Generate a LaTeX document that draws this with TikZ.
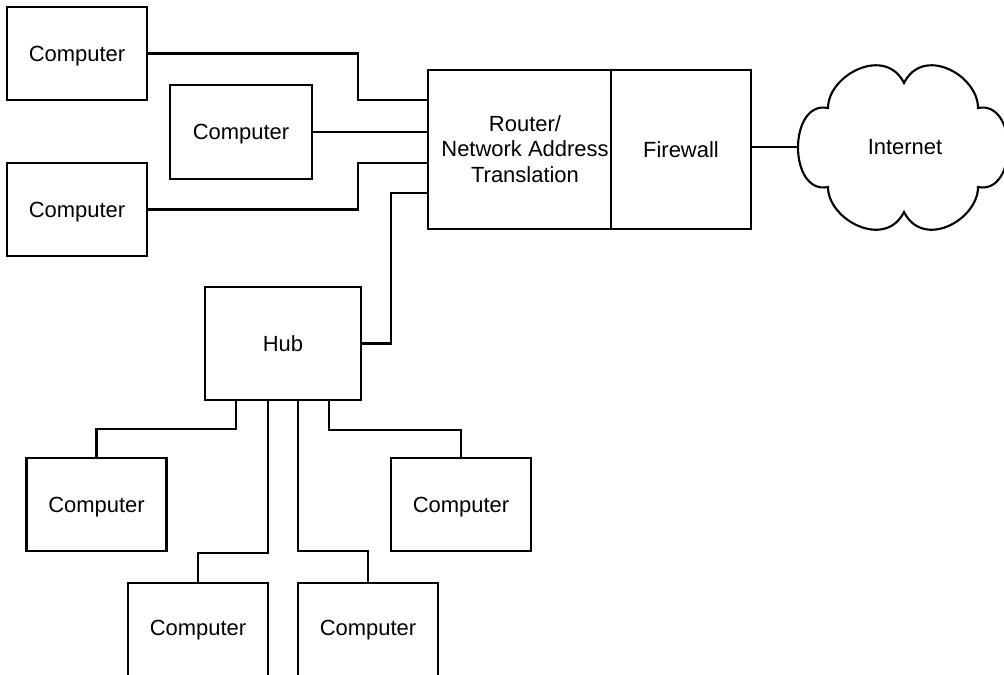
\documentclass[tikz,border=0pt]{standalone}
\usepackage{fontspec}
\setmainfont{Liberation Sans}
\usetikzlibrary{calc}
\begin{document}
\begin{tikzpicture}[x=0.02cm,y=-0.02cm,
  every node/.style={font=\fontsize{12.5}{14.5}\selectfont},
  txt/.style={text depth=0pt},
  box/.style={draw,line width=1.2pt,inner sep=0pt,outer sep=0pt,align=center,text depth=0pt},
  comp/.style={box,minimum width=2.8cm,minimum height=1.86cm},
  wire/.style={line width=1.2pt}]
\clip (0,0) rectangle (1004,674);
\fill[white] (0,0) rectangle (1004,674);
% top computers
\node[comp] (c1) at (77,53.5) {Computer};
\node[comp,minimum width=2.84cm,minimum height=1.88cm] (c2) at (241,132) {Computer};
\node[comp] (c3) at (77,209.5) {Computer};
% router and firewall
\node[box,minimum width=3.66cm,minimum height=3.18cm] (router) at (519.5,149.5) {};
\node[align=center,inner sep=0pt] (routertext) at (525,149) {Router/\\Network Address\\Translation};
\node[box,minimum width=2.8cm,minimum height=3.18cm] (fw) at (681,149.5) {Firewall};
% hub
\node[box,minimum width=3.12cm,minimum height=2.26cm] (hub) at (283,343.5) {Hub};
% bottom computers
\node[comp] (cb1) at (96.5,504.5) {Computer};
\node[comp] (cr) at (461,504.5) {Computer};
\node[comp] (cb2) at (198,629.5) {};
\node[txt] (cb2text) at (198,628) {Computer};
\node[comp] (cb3) at (368,629.5) {};
\node[txt] (cb3text) at (368,628) {Computer};
% cloud
\draw[line width=1.2pt,fill=white] (828,108) .. controls (828,75) and (885,45) .. (904,83)
  .. controls (923,45) and (978,75) .. (978,108)
  .. controls (1018,100) and (1018,195) .. (978,187)
  .. controls (978,220) and (923,250) .. (904,212)
  .. controls (885,250) and (828,220) .. (828,187)
  .. controls (788,195) and (788,100) .. (828,108) -- cycle;
\coordinate (cl) at (798,147);
\node[txt] (internet) at (905,147) {Internet};
% connectors to router
\coordinate (b1) at (358,100);
\coordinate (b3) at (358,163);
\coordinate (b4) at (391,193);
\draw[wire] (c1.east) -| (b1) -- (router.west |- b1);
\draw[wire] (c2.east) -- (router.west |- c2.east);
\draw[wire] (c3.east) -| (b3) -- (router.west |- b3);
\draw[wire] (hub.east) -| (b4) -- (router.west |- b4);
\draw[wire] (fw.east |- cl) -- (cl);
% hub to computers
\coordinate (h1) at (236,429);
\coordinate (h2) at (268,553);
\coordinate (h3) at (298,551);
\coordinate (h4) at (329,430);
\draw[wire] (hub.south -| h1) -- (h1) -| (cb1.north);
\draw[wire] (hub.south -| h2) -- (h2) -| (cb2.north);
\draw[wire] (hub.south -| h3) -- (h3) -| (cb3.north);
\draw[wire] (hub.south -| h4) -- (h4) -| (cr.north);
\end{tikzpicture}
\end{document}
